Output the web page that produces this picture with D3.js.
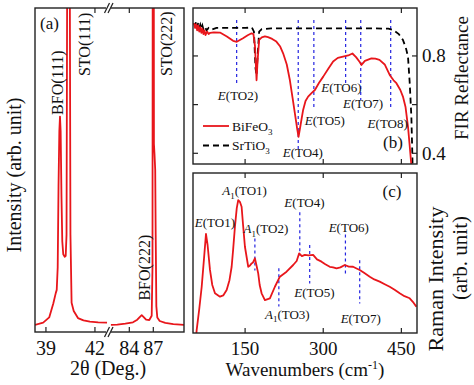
<!DOCTYPE html>
<html><head><meta charset="utf-8">
<script src="https://cdn.jsdelivr.net/npm/d3@7"></script>
<style>
html,body{margin:0;padding:0;background:#fff;}
svg text{font-family:"Liberation Serif","Times New Roman","DejaVu Serif",serif;fill:#111;}
</style></head>
<body><svg id="c" width="474" height="385" font-family="Liberation Serif, Times New Roman, serif"></svg>
<script>
// ---------- DATA ----------
// Panel (a): XRD, 2θ (deg) vs intensity (arb.)
const xrdLeft2theta = [38.33,38.83,39.2,39.45,39.6,39.66,39.72,39.77,39.82,39.86,39.9,39.95,40.0,40.06,40.15,40.21,40.26,40.3,40.38,40.46,40.5,40.57,40.7,40.96,41.3,41.69,42.2,42.74];
const xrdLeftI      = [2.2,2.9,4.5,8.8,12,13,20,45,62,66.5,62,42,28,24,23.2,23.5,30,110,320,110,30,9,6.5,4.3,3.6,3.2,3.0,2.9];
const xrdRight2theta = [81.7,82.5,83.5,84.46,85.0,85.3,85.55,85.8,86.1,86.5,86.8,86.9,86.96,87.02,87.08,87.15,87.24,87.3,87.38,87.5,87.8,88.5,89.5,90.84];
const xrdRightI      = [2.2,2.3,2.6,3.0,3.8,4.6,5.2,4.6,3.8,3.7,5,20,250,250,58,55,50,30,8,4.5,3.4,2.8,2.4,2.2];
const xrdTicksLeft = [39,42];
const xrdTicksRight = [84,87];
const xrdPeakLabels = [
  {t:"BFO(111)", x:39.86, side:"L", y:67},
  {t:"STO(111)", x:40.38, side:"L", y:79},
  {t:"STO(222)", x:87.08, side:"R", y:79},
  {t:"BFO(222)", x:85.55, side:"R", y:6}
];

// Panel (b): FIR reflectance
const firBFOw = [51.9,54,56,58,60,62,64,66,68,70,72,74,77,80,83,90,101.8,115,127,134,146,155,162.5,166,169,172,174,177,182,188,194,202,210,217,223,230,236,241,245.5,250,252.6,256,261.4,266,271,278,284,292,300,310,319,328,338,348,356,363,370,373.4,380,392.5,400,408,418,427.6,435,440.5,448,453,458,462.7,466,469,471];
const firBFOr = [0.935,0.915,0.93,0.905,0.925,0.9,0.918,0.895,0.912,0.89,0.905,0.886,0.9,0.89,0.895,0.897,0.896,0.88,0.862,0.858,0.873,0.885,0.893,0.89,0.84,0.70,0.78,0.866,0.876,0.88,0.877,0.87,0.859,0.84,0.811,0.765,0.70,0.63,0.565,0.5,0.468,0.51,0.578,0.615,0.633,0.648,0.66,0.69,0.715,0.748,0.777,0.792,0.797,0.802,0.81,0.795,0.775,0.763,0.78,0.79,0.789,0.784,0.765,0.722,0.70,0.688,0.66,0.633,0.59,0.51,0.43,0.355,0.3];
const firSTOw = [51.9,54,56,58,60,62,64,66,68,70,73,76,80,85,95,120,150,163,167,170,172,174,177,182,200,300,400,425,434,445,453,459,462.7,466,469.2,471,472];
const firSTOr = [0.935,0.925,0.94,0.92,0.935,0.915,0.928,0.91,0.925,0.91,0.92,0.905,0.915,0.908,0.915,0.915,0.915,0.917,0.9,0.75,0.72,0.8,0.9,0.91,0.913,0.913,0.913,0.912,0.907,0.89,0.866,0.83,0.797,0.69,0.55,0.40,0.3];
const firModes = [
  {m:"TO2", w:133.8, top:0.948, bot:0.689, lx:136.3, ly:0.619},
  {m:"TO4", w:252,   top:0.948, bot:0.413, lx:260.8, ly:0.384},
  {m:"TO5", w:282,   top:0.948, bot:0.578, lx:303,   ly:0.516},
  {m:"TO6", w:343,   top:0.948, bot:0.689, lx:335,   ly:0.652},
  {m:"TO7", w:372,   top:0.948, bot:0.619, lx:376.4, ly:0.586},
  {m:"TO8", w:429.5, top:0.948, bot:0.578, lx:423.8, ly:0.504}
];
const firTicks = [0.4,0.6,0.8];
const firTickLabels = [0.4,0.8];
const legendItems = [{name:"BiFeO", sub:"3", dash:null},{name:"SrTiO", sub:"3", dash:"6,4"}];

// Panel (c): Raman
const ramanW = [55,57.1,62,66.7,71,74.9,78,82.6,87,92.2,101.8,108,114.6,120,124.2,127,130.5,134,136.8,140,143.3,146,149.7,156,159,162.5,165,168.8,172,175.2,178,181.7,188,197.6,207.2,216.8,229.6,242.3,249,253.8,259,264.7,272,280.6,288,296.7,304,312.6,319,325.5,333,341.4,349,357.3,363,370.1,379,389.3,398,408.4,418,427.6,437,446.8,456,466,472,478.8];
const ramanI = [-5,1.9,15,28.9,46,61.9,55,39.4,30,24.8,22.7,23.5,26.9,33,41.4,52,66.4,78,83.1,82,78.9,68,53.9,41.4,42,43.5,44,46.7,42,37.3,30,24.8,20.6,21.7,28.9,35.2,38.3,42.5,45,49.8,48,48.8,48.5,48.8,46,44.6,43,41.4,41,40.4,41,42.5,41.5,41.4,40.5,39.4,37.5,35.2,33.5,32.1,30.5,28.9,27,24.8,23,21.7,19.5,16.4];
const ramanModes = [
  {a:"A", sub:"1", m:"TO2", w:168.8, top:59, bot:39,   lx:190, ly:62.5},
  {a:"A", sub:"1", m:"TO3", w:214.8, top:40.5, bot:16.5, lx:231, ly:9},
  {a:"E", sub:"",  m:"TO4", w:255,   top:75.5, bot:48.5, lx:264, ly:79},
  {a:"E", sub:"",  m:"TO5", w:274,   top:55,   bot:31,   lx:283, ly:22.5},
  {a:"E", sub:"",  m:"TO6", w:342.6, top:61.5, bot:36.5, lx:349, ly:63},
  {a:"E", sub:"",  m:"TO7", w:370,   top:45.5, bot:18.5, lx:372, ly:6},
  {a:"E", sub:"",  m:"TO1", w:null,  top:0, bot:0,       lx:92,  ly:66.5},
  {a:"A", sub:"1", m:"TO1", w:null,  top:0, bot:0,       lx:149, ly:86}
];
const wnTicks = [150,300,450];

// ---------- DRAW ----------
const svg = d3.select("#c");
const RED = "#e8161b", BLUE = "#2424e0", FRAME = "#222";

const A = {l:35, r:184, t:8, b:332, brk:109};
const B = {l:193, r:417, t:8, b:164};
const C = {l:193, r:417, t:173, b:333};

const defs = svg.append("defs");
function clip(id, p){ defs.append("clipPath").attr("id",id).append("rect").attr("x",p.l).attr("y",p.t).attr("width",p.r-p.l).attr("height",p.b-p.t); }
clip("ca",A); clip("cb",B); clip("cc",C);

// ---- panel a ----
const xaL = d3.scaleLinear().domain([38.33,42.86]).range([A.l,A.brk]);
const xaR = d3.scaleLinear().domain([81.46,90.84]).range([A.brk,A.r]);
const ya = d3.scaleLinear().domain([0,100]).range([A.b,A.t]);
const ga = svg.append("g");
const lineAL = d3.line().x((d,i)=>xaL(xrdLeft2theta[i])).y(d=>ya(d));
const lineAR = d3.line().x((d,i)=>xaR(xrdRight2theta[i])).y(d=>ya(d));
const gaClip = ga.append("g").attr("clip-path","url(#ca)");
gaClip.append("path").attr("d",lineAL(xrdLeftI)).attr("fill","none").attr("stroke",RED).attr("stroke-width",1.8).attr("stroke-linejoin","round");
gaClip.append("path").attr("d",lineAR(xrdRightI)).attr("fill","none").attr("stroke",RED).attr("stroke-width",1.8).attr("stroke-linejoin","round");
ga.append("rect").attr("x",A.l).attr("y",A.t).attr("width",A.r-A.l).attr("height",A.b-A.t).attr("fill","none").attr("stroke",FRAME).attr("stroke-width",1.4);
const tickLen = 5;
xrdTicksLeft.forEach(v=>{ ga.append("line").attr("x1",xaL(v)).attr("x2",xaL(v)).attr("y1",A.b).attr("y2",A.b-tickLen).attr("stroke",FRAME).attr("stroke-width",1.2); });
xrdTicksRight.forEach(v=>{ ga.append("line").attr("x1",xaR(v)).attr("x2",xaR(v)).attr("y1",A.b).attr("y2",A.b-tickLen).attr("stroke",FRAME).attr("stroke-width",1.2); });
[xaL(42), xaR(84)].forEach(x=>{ ga.append("line").attr("x1",x).attr("x2",x).attr("y1",A.t).attr("y2",A.t+tickLen).attr("stroke",FRAME).attr("stroke-width",1.2); });
xrdTicksLeft.forEach(v=>ga.append("text").attr("x",xaL(v)).attr("y",355).attr("text-anchor","middle").attr("font-size",20).text(v));
xrdTicksRight.forEach(v=>ga.append("text").attr("x",xaR(v)).attr("y",355).attr("text-anchor","middle").attr("font-size",20).text(v));
[A.t, A.b].forEach(yy=>{
  ga.append("rect").attr("x",A.brk-3).attr("y",yy-2).attr("width",5).attr("height",4).attr("fill","#fff");
  [-2,1.5].forEach(dx=>ga.append("line").attr("x1",A.brk+dx-2.5).attr("y1",yy+5).attr("x2",A.brk+dx+2.5).attr("y2",yy-5).attr("stroke",FRAME).attr("stroke-width",1.2));
});
ga.append("text").attr("x",40).attr("y",29).attr("font-size",17).text("(a)");
xrdPeakLabels.forEach(p=>{
  const x = p.side==="L"? xaL(p.x) : xaR(p.x);
  const off = {"BFO(111)":3.5,"STO(111)":21.5,"STO(222)":18,"BFO(222)":8}[p.t];
  ga.append("text").attr("transform",`translate(${x+off},${ya(p.y)-( p.t==="BFO(222)"?12:0)}) rotate(-90)`).attr("font-size",16).text(p.t);
});
ga.append("text").attr("transform","translate(21,175) rotate(-90)").attr("text-anchor","middle").attr("font-size",20).text("Intensity (arb. unit)");
ga.append("text").attr("x",108).attr("y",375).attr("text-anchor","middle").attr("font-size",20).text("2θ (Deg.)");

// ---- panel b ----
const xw = d3.scaleLinear().domain([50,480]).range([B.l,B.r]);
const yb = d3.scaleLinear().domain([0.356,0.997]).range([B.b,B.t]);
const gb = svg.append("g");
const gbClip = gb.append("g").attr("clip-path","url(#cb)");
firModes.forEach(m=>{
  gbClip.append("line").attr("x1",xw(m.w)).attr("x2",xw(m.w)).attr("y1",yb(m.top)).attr("y2",yb(m.bot)).attr("stroke",BLUE).attr("stroke-width",1.2).attr("stroke-dasharray","3,3");
});
gbClip.append("path").attr("d",d3.line().x((d,i)=>xw(firSTOw[i])).y(d=>yb(d))(firSTOr)).attr("fill","none").attr("stroke","#000").attr("stroke-width",1.8).attr("stroke-dasharray","6,4");
gbClip.append("path").attr("d",d3.line().x((d,i)=>xw(firBFOw[i])).y(d=>yb(d))(firBFOr)).attr("fill","none").attr("stroke",RED).attr("stroke-width",1.8).attr("stroke-linejoin","round");
gb.append("rect").attr("x",B.l).attr("y",B.t).attr("width",B.r-B.l).attr("height",B.b-B.t).attr("fill","none").attr("stroke",FRAME).attr("stroke-width",1.4);
wnTicks.forEach(v=>{
  gb.append("line").attr("x1",xw(v)).attr("x2",xw(v)).attr("y1",B.t).attr("y2",B.t+tickLen).attr("stroke",FRAME).attr("stroke-width",1.2);
  gb.append("line").attr("x1",xw(v)).attr("x2",xw(v)).attr("y1",B.b).attr("y2",B.b-tickLen).attr("stroke",FRAME).attr("stroke-width",1.2);
});
firTicks.forEach(v=>{
  gb.append("line").attr("x1",B.l).attr("x2",B.l+tickLen).attr("y1",yb(v)).attr("y2",yb(v)).attr("stroke",FRAME).attr("stroke-width",1.2);
  gb.append("line").attr("x1",B.r).attr("x2",B.r-tickLen).attr("y1",yb(v)).attr("y2",yb(v)).attr("stroke",FRAME).attr("stroke-width",1.2);
});
firTickLabels.forEach(v=>gb.append("text").attr("x",B.r+5).attr("y",yb(v)+6.5).attr("font-size",19).text(v.toFixed(1)));
firModes.forEach(m=>{
  const t = gb.append("text").attr("x",xw(m.lx)).attr("y",yb(m.ly)).attr("text-anchor","middle").attr("font-size",13);
  t.append("tspan").attr("font-style","italic").text("E");
  t.append("tspan").text("("+m.m+")");
});
legendItems.forEach((L,i)=>{
  const yy = 126 + i*19.5;
  gb.append("line").attr("x1",203).attr("x2",229).attr("y1",yy).attr("y2",yy).attr("stroke",L.dash?"#000":RED).attr("stroke-width",1.8).attr("stroke-dasharray",L.dash);
  const t = gb.append("text").attr("x",232).attr("y",yy+4.5).attr("font-size",13.5);
  t.append("tspan").text(L.name);
  t.append("tspan").attr("font-size",9).attr("dy",4).text(L.sub);
});
gb.append("text").attr("x",383).attr("y",148).attr("font-size",17).text("(b)");
gb.append("text").attr("transform","translate(468,78) rotate(-90)").attr("text-anchor","middle").attr("font-size",19).text("FIR Reflectance");

// ---- panel c ----
const yc = d3.scaleLinear().domain([0,100]).range([C.b,C.t]);
const gc = svg.append("g");
const gcClip = gc.append("g").attr("clip-path","url(#cc)");
ramanModes.filter(m=>m.w!==null).forEach(m=>{
  gcClip.append("line").attr("x1",xw(m.w)).attr("x2",xw(m.w)).attr("y1",yc(m.top)).attr("y2",yc(m.bot)).attr("stroke",BLUE).attr("stroke-width",1.2).attr("stroke-dasharray","3,3");
});
gcClip.append("path").attr("d",d3.line().x((d,i)=>xw(ramanW[i])).y(d=>yc(d))(ramanI)).attr("fill","none").attr("stroke",RED).attr("stroke-width",1.8).attr("stroke-linejoin","round");
gc.append("rect").attr("x",C.l).attr("y",C.t).attr("width",C.r-C.l).attr("height",C.b-C.t).attr("fill","none").attr("stroke",FRAME).attr("stroke-width",1.4);
wnTicks.forEach(v=>{
  gc.append("line").attr("x1",xw(v)).attr("x2",xw(v)).attr("y1",C.t).attr("y2",C.t+tickLen).attr("stroke",FRAME).attr("stroke-width",1.2);
  gc.append("line").attr("x1",xw(v)).attr("x2",xw(v)).attr("y1",C.b).attr("y2",C.b-tickLen).attr("stroke",FRAME).attr("stroke-width",1.2);
  gc.append("text").attr("x",xw(v)).attr("y",355).attr("text-anchor","middle").attr("font-size",19).text(v);
});
ramanModes.forEach(m=>{
  const t = gc.append("text").attr("x",xw(m.lx)).attr("y",yc(m.ly)).attr("text-anchor","middle").attr("font-size",13);
  t.append("tspan").attr("font-style","italic").text(m.a);
  if(m.sub){ t.append("tspan").attr("font-size",9).attr("dy",3.5).text(m.sub); t.append("tspan").attr("dy",-3.5).text("("+m.m+")"); }
  else t.append("tspan").text("("+m.m+")");
});
gc.append("text").attr("x",392).attr("y",197).attr("text-anchor","middle").attr("font-size",17).text("(c)");
const wl = gc.append("text").attr("x",305).attr("y",376).attr("text-anchor","middle").attr("font-size",19);
wl.append("tspan").text("Wavenumbers (cm");
wl.append("tspan").attr("font-size",12).attr("dy",-7).text("-1");
wl.append("tspan").attr("dy",7).text(")");
gc.append("text").attr("transform","translate(443,279) rotate(-90)").attr("text-anchor","middle").attr("font-size",22).text("Raman Intensity");
gc.append("text").attr("transform","translate(467,258) rotate(-90)").attr("text-anchor","middle").attr("font-size",21).text("(arb. unit)");
</script></body></html>
